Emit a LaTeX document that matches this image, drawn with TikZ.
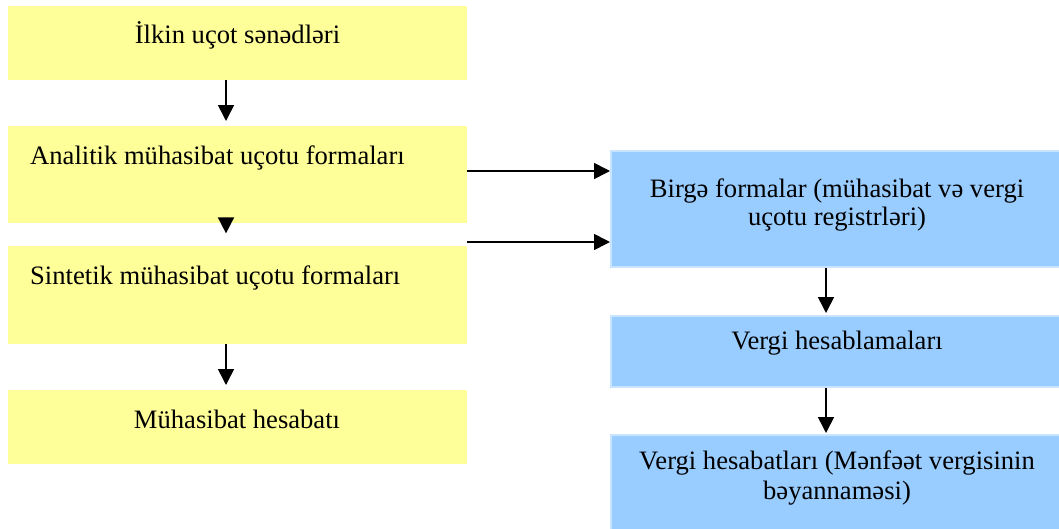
\documentclass[tikz,border=0pt]{standalone}
\usepackage{fontspec}
\setmainfont{Liberation Serif}
\usetikzlibrary{arrows.meta}
\definecolor{yel}{HTML}{FFFF99}
\definecolor{blu}{HTML}{99CCFF}
\definecolor{bluedge}{HTML}{C8E4FF}
\begin{document}
\begin{tikzpicture}[x=1pt,y=-1pt,
  ybox/.style={fill=yel, draw=none, inner sep=0pt},
  bbox/.style={fill=blu, draw=bluedge, line width=1.5pt, inner sep=0pt},
  txt/.style={font=\fontsize{26.6}{30}\selectfont, inner sep=0pt, anchor=base},
  arr/.style={line width=1.6pt, -{Triangle[length=16pt,width=16pt]}}]
\useasboundingbox (0,0) rectangle (1059,528);
% yellow boxes
\node[ybox, minimum width=459pt, minimum height=74pt, anchor=north west] (b1) at (8,6) {};
\node[ybox, minimum width=459pt, minimum height=97pt, anchor=north west] (b2) at (8,126) {};
\node[ybox, minimum width=459pt, minimum height=98pt, anchor=north west] (b3) at (8,246) {};
\node[ybox, minimum width=459pt, minimum height=74pt, anchor=north west] (b4) at (8,390) {};
% blue boxes
\node[bbox, minimum width=452pt, minimum height=116pt, anchor=north west] (bA) at (610,150) {};
\node[bbox, minimum width=452pt, minimum height=71pt, anchor=north west] (bB) at (610,315) {};
\node[bbox, minimum width=452pt, minimum height=96pt, anchor=north west] (bC) at (610,434) {};
% texts
\node[txt] (t1) at (237.5,43) {İlkin uçot sənədləri};
\node[txt, anchor=base west] (t2) at (30,164) {Analitik mühasibat uçotu formaları};
\node[txt, anchor=base west] (t3) at (30,284) {Sintetik mühasibat uçotu formaları};
\node[txt] (t4) at (237,428) {Mühasibat hesabatı};
\node[txt] (tA1) at (837,197) {Birgə formalar (mühasibat və vergi};
\node[txt] (tA2) at (837,225) {uçotu registrləri)};
\node[txt] (tB) at (837,349) {Vergi hesablamaları};
\node[txt] (tC1) at (837,469) {Vergi hesabatları (Mənfəət vergisinin};
\node[txt] (tC2) at (837,499) {bəyannaməsi)};
% arrows
\coordinate (xl) at (226,0);
\coordinate (xr) at (826,0);
\draw[arr] (b1.south -| xl) -- ([yshift=5pt]b2.north -| xl);
\draw[arr] (b2.south -| xl) -- ([yshift=-10pt]b2.south -| xl);
\draw[arr] (b3.south -| xl) -- ([yshift=5pt]b4.north -| xl);
\coordinate (y1) at (0,171);
\coordinate (y2) at (0,242);
\draw[arr] (b2.east |- y1) -- (bA.west |- y1);
\draw[arr] (b2.east |- y2) -- (bA.west |- y2);
\draw[arr] (bA.south -| xr) -- ([yshift=2pt]bB.north -| xr);
\draw[arr] (bB.south -| xr) -- ([yshift=1pt]bC.north -| xr);
\end{tikzpicture}
\end{document}
